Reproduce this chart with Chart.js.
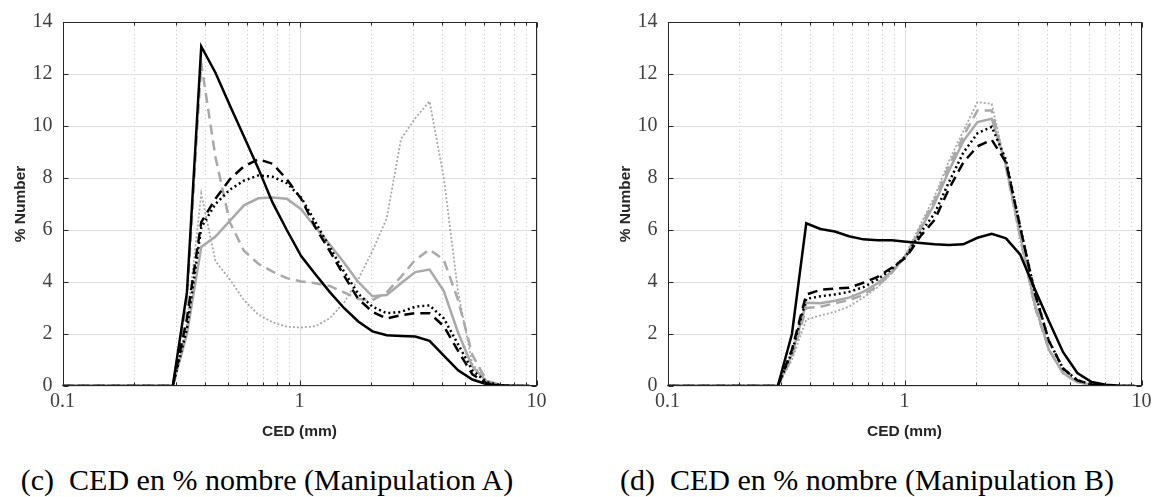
<!DOCTYPE html>
<html>
<head>
<meta charset="utf-8">
<script src="https://cdn.jsdelivr.net/npm/chart.js@4.4.0/dist/chart.umd.min.js"></script>
<style>
  html, body { margin: 0; padding: 0; background: #fff; }
  body { width: 1159px; height: 497px; position: relative; overflow: hidden; }
  canvas { position: absolute; top: 0; }
  #chartA { left: 0; }
  #chartB { left: 604.5px; }
  .caption {
    position: absolute; top: 465px; transform: translateX(-50%);
    font-family: 'Liberation Serif', 'Times New Roman', serif; font-size: 30px;
    line-height: 30px; color: #000; white-space: nowrap;
  }
</style>
</head>
<body>
<canvas id="chartA" width="580" height="450"></canvas>
<canvas id="chartB" width="555" height="450"></canvas>
<div class="caption" style="left:267px">(c)&nbsp; CED en % nombre (Manipulation A)</div>
<div class="caption" style="left:867px">(d)&nbsp; CED en % nombre (Manipulation B)</div>
<script>
// CED size classes (mm)
const cedMm = [0.1, 0.254, 0.292, 0.335, 0.385, 0.442, 0.508, 0.583, 0.670, 0.770, 0.884, 1.016, 1.167,
  1.340, 1.540, 1.769, 2.032, 2.334, 2.681, 3.080, 3.538, 4.064, 4.669, 5.363, 6.161, 7.077, 8.130, 9.339];

// Manipulation A (% number)
const blackSolidA = [0, 0, 0, 3.6, 13.06, 12.05, 10.8, 9.6, 8.37, 7.05, 6.0, 5.0, 4.3, 3.62, 3.0, 2.48, 2.1, 1.95, 1.92, 1.9, 1.74, 1.17, 0.6, 0.25, 0.07, 0.02, 0, 0];
const blackDashA  = [0, 0, 0, 2.6, 6.3, 7.2, 7.95, 8.45, 8.72, 8.55, 7.95, 7.2, 6.1, 5.2, 4.25, 3.35, 2.85, 2.6, 2.72, 2.8, 2.8, 2.3, 1.35, 0.45, 0.1, 0.02, 0, 0];
const blackDotA   = [0, 0, 0, 2.2, 6.1, 7.0, 7.55, 7.9, 8.1, 8.05, 7.8, 7.25, 6.3, 5.35, 4.4, 3.55, 3.05, 2.8, 2.85, 3.05, 3.1, 2.6, 1.6, 0.6, 0.15, 0.03, 0, 0];
const graySolidA  = [0, 0, 0, 2.0, 5.35, 5.75, 6.35, 6.95, 7.22, 7.25, 7.2, 6.8, 6.1, 5.45, 4.75, 4.0, 3.45, 3.5, 3.95, 4.38, 4.48, 3.65, 2.05, 0.75, 0.18, 0.04, 0, 0];
const grayDashA   = [0, 0, 0, 3.3, 12.4, 8.8, 6.3, 5.2, 4.7, 4.4, 4.15, 4.02, 3.95, 3.85, 3.6, 3.35, 3.3, 3.6, 4.2, 4.85, 5.25, 4.85, 3.3, 1.2, 0.2, 0.03, 0, 0];
const grayDotA    = [0, 0, 0, 2.4, 7.4, 4.8, 4.1, 3.3, 2.75, 2.45, 2.28, 2.25, 2.3, 2.6, 3.2, 4.1, 5.2, 6.45, 9.5, 10.3, 10.95, 8.0, 3.6, 0.85, 0.2, 0.05, 0, 0];

// Manipulation B (% number)
const blackSolidB = [0, 0, 0, 2.0, 6.26, 6.04, 5.94, 5.76, 5.64, 5.61, 5.61, 5.55, 5.5, 5.45, 5.42, 5.45, 5.7, 5.85, 5.68, 5.05, 3.75, 2.5, 1.3, 0.5, 0.15, 0.05, 0.01, 0];
const blackDashB  = [0, 0, 0, 1.4, 3.52, 3.7, 3.75, 3.78, 3.97, 4.2, 4.55, 4.95, 5.76, 6.39, 7.58, 8.59, 9.22, 9.47, 8.6, 6.1, 3.6, 1.74, 0.67, 0.22, 0.06, 0.02, 0, 0];
const blackDotB   = [0, 0, 0, 1.3, 3.35, 3.45, 3.52, 3.62, 3.8, 4.1, 4.5, 5.0, 5.89, 6.64, 7.84, 8.97, 9.72, 9.97, 8.7, 6.1, 3.65, 1.74, 0.67, 0.22, 0.06, 0.02, 0, 0];
const graySolidB  = [0, 0, 0, 1.2, 3.2, 3.18, 3.28, 3.4, 3.62, 3.95, 4.4, 5.0, 6.01, 7.02, 8.28, 9.41, 10.15, 10.28, 8.5, 5.8, 3.2, 1.4, 0.5, 0.15, 0.04, 0.01, 0, 0];
const grayDashB   = [0, 0, 0, 1.1, 3.0, 3.05, 3.18, 3.3, 3.5, 3.85, 4.35, 5.05, 6.1, 7.15, 8.46, 9.6, 10.6, 10.6, 8.4, 5.7, 3.1, 1.4, 0.5, 0.15, 0.04, 0.01, 0, 0];
const grayDotB    = [0, 0, 0, 1.0, 2.55, 2.72, 2.85, 3.05, 3.4, 3.8, 4.35, 5.1, 6.2, 7.3, 8.65, 9.8, 10.92, 10.85, 8.4, 5.6, 3.05, 1.4, 0.48, 0.15, 0.04, 0.01, 0, 0];

// axis ticks
const xMajor = [0.1, 1, 10];
const xMinor = [0.2, 0.3, 0.4, 0.5, 0.6, 0.7, 0.8, 0.9, 2, 3, 4, 5, 6, 7, 8, 9];
const yTicks = [0, 2, 4, 6, 8, 10, 12, 14];

const BLACK = '#000000';
const GRAY = '#a9a9a9';

// grid under the curves, box and inward ticks on top (matlab look)
const matlabAxes = {
  id: 'matlabAxes',
  beforeDatasetsDraw(chart) {
    const { ctx, chartArea: a, scales: { x, y } } = chart;
    ctx.save();
    ctx.lineWidth = 1;
    ctx.strokeStyle = '#c4c4c4';
    ctx.setLineDash([1, 3]);
    xMinor.forEach(v => {
      const px = Math.round(x.getPixelForValue(v)) + 0.5;
      ctx.beginPath(); ctx.moveTo(px, a.top); ctx.lineTo(px, a.bottom); ctx.stroke();
    });
    ctx.setLineDash([]);
    ctx.strokeStyle = '#dedede';
    xMajor.forEach(v => {
      const px = Math.round(x.getPixelForValue(v)) + 0.5;
      ctx.beginPath(); ctx.moveTo(px, a.top); ctx.lineTo(px, a.bottom); ctx.stroke();
    });
    yTicks.forEach(v => {
      const py = Math.round(y.getPixelForValue(v)) + 0.5;
      ctx.beginPath(); ctx.moveTo(a.left, py); ctx.lineTo(a.right, py); ctx.stroke();
    });
    ctx.restore();
  },
  afterDatasetsDraw(chart) {
    const { ctx, chartArea: a, scales: { x, y } } = chart;
    ctx.save();
    ctx.lineWidth = 1;
    ctx.strokeStyle = '#262626';
    const l = Math.round(a.left) + 0.5, r = Math.round(a.right) - 0.5;
    const t = Math.round(a.top) + 0.5, b = Math.round(a.bottom) - 0.5;
    ctx.strokeRect(l, t, r - l, b - t);
    ctx.beginPath();
    xMinor.concat(xMajor).forEach(v => {
      const px = Math.round(x.getPixelForValue(v)) + 0.5;
      const len = xMajor.includes(v) ? 5 : 3;
      ctx.moveTo(px, b); ctx.lineTo(px, b - len);
      ctx.moveTo(px, t); ctx.lineTo(px, t + len);
    });
    yTicks.forEach(v => {
      const py = Math.round(y.getPixelForValue(v)) + 0.5;
      ctx.moveTo(l, py); ctx.lineTo(l + 5, py);
      ctx.moveTo(r, py); ctx.lineTo(r - 5, py);
    });
    ctx.stroke();
    ctx.restore();
  }
};

function series(values, color, width, dash) {
  return {
    data: cedMm.map((c, i) => ({ x: c, y: values[i] })),
    borderColor: color,
    borderWidth: width,
    borderDash: dash,
    pointRadius: 0,
    tension: 0,
    fill: false
  };
}

function makeChart(id, sets, padRight) {
  const datasets = [
    series(sets[0], BLACK, 2.5, []),
    series(sets[1], BLACK, 2.5, [10, 6]),
    series(sets[2], BLACK, 2.5, [2, 3]),
    series(sets[3], GRAY, 2.5, []),
    series(sets[4], GRAY, 2.5, [10, 6]),
    series(sets[5], GRAY, 1.8, [2, 2])
  ];
  return new Chart(document.getElementById(id), {
    type: 'line',
    data: { datasets },
    plugins: [matlabAxes],
    options: {
      responsive: false,
      animation: false,
      layout: { padding: { top: 15, right: padRight, left: 0, bottom: 0 } },
      plugins: { legend: { display: false }, tooltip: { enabled: false } },
      scales: {
        x: {
          type: 'logarithmic',
          min: 0.1,
          max: 10,
          afterBuildTicks: s => { s.ticks = xMajor.map(v => ({ value: v })); },
          afterFit: s => { s.height = 64; },
          grid: { display: false, drawTicks: false },
          border: { display: false },
          ticks: {
            autoSkip: false,
            maxRotation: 0,
            padding: 4,
            color: '#404040',
            font: { family: "'Liberation Serif', 'Times New Roman', serif", size: 20 },
            callback: v => String(v)
          },
          title: {
            display: true,
            text: 'CED (mm)',
            color: '#262626',
            padding: { top: 0, bottom: 9 },
            font: { family: "'Liberation Sans', Arial, sans-serif", size: 15.5, weight: 'bold' }
          }
        },
        y: {
          min: 0,
          max: 14,
          afterBuildTicks: s => { s.ticks = yTicks.map(v => ({ value: v })); },
          afterFit: s => { s.width = 62.5; },
          grid: { display: false, drawTicks: false },
          border: { display: false },
          ticks: {
            padding: 10,
            color: '#404040',
            font: { family: "'Liberation Serif', 'Times New Roman', serif", size: 20 }
          },
          title: {
            display: true,
            text: '% Number',
            color: '#262626',
            padding: { top: 11, bottom: 0 },
            font: { family: "'Liberation Sans', Arial, sans-serif", size: 15.5, weight: 'bold' }
          }
        }
      }
    }
  });
}

makeChart('chartA', [blackSolidA, blackDashA, blackDotA, graySolidA, grayDashA, grayDotA], 43.5);
makeChart('chartB', [blackSolidB, blackDashB, blackDotB, graySolidB, grayDashB, grayDotB], 18.5);
</script>
</body>
</html>
